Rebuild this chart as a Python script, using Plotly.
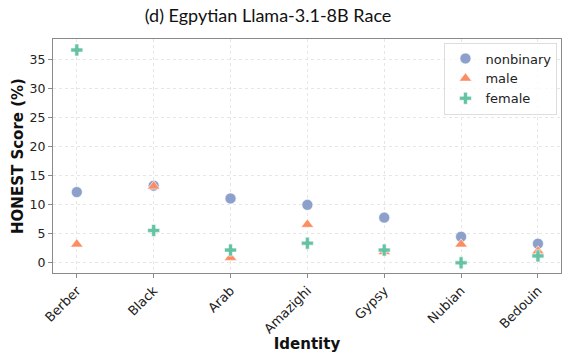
import plotly.graph_objects as go

identities = ["Berber", "Black", "Arab", "Amazighi", "Gypsy", "Nubian", "Bedouin"]
nonbinary = [12.2, 13.3, 11.1, 10.0, 7.8, 4.5, 3.3]
male = [3.2, 13.2, 0.9, 6.6, 1.9, 3.2, 2.0]
female = [36.7, 5.6, 2.2, 3.4, 2.2, 0.0, 1.2]
y_ticks = [0, 5, 10, 15, 20, 25, 30, 35]

series = [
    ("nonbinary", nonbinary, "#8da0cb", "circle", 11),
    ("male", male, "#fc8d62", "triangle-up", 11),
    ("female", female, "#66c2a5", "cross", 10),
]

fig = go.Figure()
for name, vals, color, sym, size in series:
    fig.add_trace(go.Scatter(
        x=list(range(len(identities))), y=vals, mode="markers", name=name,
        marker=dict(color=color, symbol=sym, size=size,
                    line=dict(color="white", width=0.6)),
    ))

axis_common = dict(
    showline=True, linecolor="#8a8a8a", linewidth=1, mirror=True,
    showgrid=True, gridcolor="#e6e6e6", griddash="dot", gridwidth=1,
    ticks="outside", ticklen=4, tickcolor="#8a8a8a",
    zeroline=False,
)

fig.update_layout(
    width=562, height=353,
    margin=dict(l=53, r=1, t=39, b=80),
    paper_bgcolor="white", plot_bgcolor="white",
    title=dict(text="(d) Egpytian Llama-3.1-8B Race", x=0.477, xanchor="center",
               y=0.955, yanchor="middle",
               font=dict(family="Lato", size=18, color="#111")),
    xaxis=dict(**axis_common, tickmode="array",
               tickvals=list(range(len(identities))), ticktext=identities,
               tickangle=-45, range=[-0.31, 6.3],
               tickfont=dict(family="DejaVu Sans", size=13, color="#222"),
               title=dict(text="<b>Identity</b>", standoff=4,
                          font=dict(family="DejaVu Sans", size=15, color="#111"))),
    yaxis=dict(**axis_common, tickmode="array", tickvals=y_ticks,
               range=[-1.75, 38.6],
               tickfont=dict(family="DejaVu Sans", size=12.5, color="#222"),
               title=dict(text="<b>HONEST Score (%)</b>", standoff=2,
                          font=dict(family="DejaVu Sans", size=15, color="#111"))),
    legend=dict(x=0.993, y=0.985, xanchor="right", yanchor="top",
                bgcolor="rgba(255,255,255,0.8)", bordercolor="#dddddd", borderwidth=1,
                font=dict(family="DejaVu Sans", size=13, color="#222"),
                itemwidth=30),
    showlegend=True,
)

fig.write_html("out.html")
